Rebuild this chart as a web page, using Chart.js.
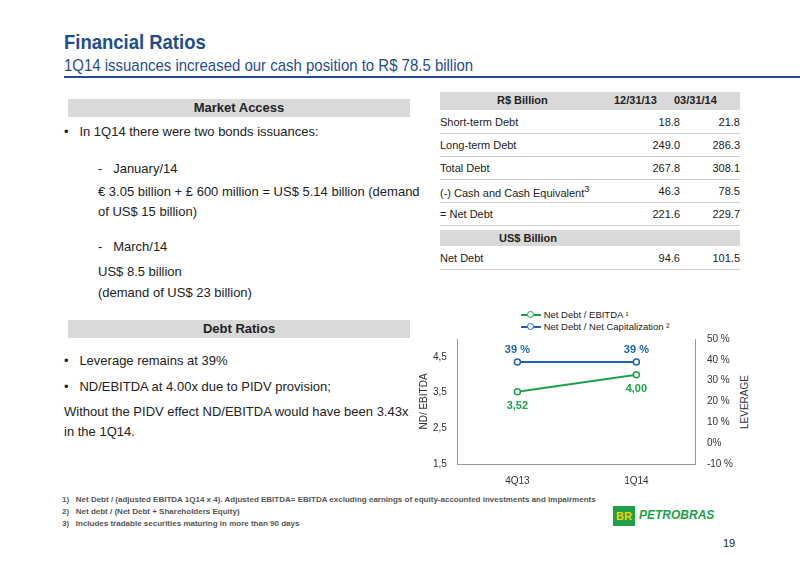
<!DOCTYPE html><html><head><meta charset="utf-8">
<script src="https://cdn.jsdelivr.net/npm/chart.js@4"></script>
<style>
body{margin:0;width:800px;height:565px;background:#fff;font-family:"Liberation Sans Narrow","Liberation Sans",Arial,sans-serif;position:relative;overflow:hidden;color:#222}
.a{position:absolute}
h1{position:absolute;left:64px;top:30px;margin:0;font-size:21px;color:#1f4e8c;font-weight:bold;transform:scaleX(.88);transform-origin:left}
.sub{left:64px;top:56px;font-size:17px;color:#1f4e8c;transform:scaleX(.88);transform-origin:left;white-space:nowrap}
.rule{left:64px;top:76px;width:736px;height:2px;background:#1f4e8c}
.box{background:#d9d9d9;font-weight:bold;text-align:center;font-size:13px;height:18px;line-height:18px}
.t{font-size:13px;white-space:nowrap}
table{border-collapse:collapse;font-size:11px}
td{height:22px;border-bottom:1px solid #ccc;padding:0}
.n{text-align:right}
</style></head><body>
<h1>Financial Ratios</h1>
<div class="a sub">1Q14 issuances increased our cash position to R$ 78.5 billion</div>
<div class="a rule"></div>
<div class="a box" style="left:68px;top:99px;width:342px">Market Access</div>
<div class="a t" style="left:64px;top:124px">•&nbsp;&nbsp; In 1Q14 there were two bonds issuances:</div>
<div class="a t" style="left:98px;top:161px">-&nbsp;&nbsp; January/14</div>
<div class="a t" style="left:98px;top:182px;line-height:20px">€ 3.05 billion + £ 600 million = US$ 5.14 billion (demand<br>of US$ 15 billion)</div>
<div class="a t" style="left:98px;top:239px">-&nbsp;&nbsp; March/14</div>
<div class="a t" style="left:98px;top:261px;line-height:21px">US$ 8.5 billion<br>(demand of US$ 23 billion)</div>
<div class="a box" style="left:68px;top:320px;width:342px">Debt Ratios</div>
<div class="a t" style="left:64px;top:353px">•&nbsp;&nbsp; Leverage remains at 39%</div>
<div class="a t" style="left:64px;top:379px">•&nbsp;&nbsp; ND/EBITDA at 4.00x due to PIDV provision;</div>
<div class="a t" style="left:64px;top:402px;line-height:20px">Without the PIDV effect ND/EBITDA would have been 3.43x<br>in the 1Q14.</div>
<div class="a" style="left:440px;top:92px;width:300px;height:18px;background:#d9d9d9"></div>
<div class="a t" style="left:497px;top:94px;font-size:11px;font-weight:bold">R$ Billion</div>
<div class="a t" style="left:614px;top:94px;font-size:11px;font-weight:bold">12/31/13</div>
<div class="a t" style="left:674px;top:94px;font-size:11px;font-weight:bold">03/31/14</div>
<table class="a" style="left:440px;top:111px;width:300px">
<tr><td>Short-term Debt</td><td class="n">18.8</td><td class="n">21.8</td></tr>
<tr><td>Long-term Debt</td><td class="n">249.0</td><td class="n">286.3</td></tr>
<tr><td>Total Debt</td><td class="n">267.8</td><td class="n">308.1</td></tr>
<tr><td>(-) Cash and Cash Equivalent<sup>3</sup></td><td class="n">46.3</td><td class="n">78.5</td></tr>
<tr><td style="width:170px">= Net Debt</td><td class="n" style="width:70px">221.6</td><td class="n">229.7</td></tr>
</table>
<div class="a" style="left:440px;top:230px;width:300px;height:16px;background:#d9d9d9"></div>
<div class="a t" style="left:499px;top:232px;font-size:11px;font-weight:bold">US$ Billion</div>
<table class="a" style="left:440px;top:247px;width:300px"><tr><td style="width:170px">Net Debt</td><td class="n" style="width:70px">94.6</td><td class="n">101.5</td></tr></table>
<div class="a" style="left:521px;top:309px;font-size:9.5px;line-height:12px">
<div><span style="display:inline-block;width:20px;height:2px;background:#1ea14a;vertical-align:middle;position:relative"><span style="position:absolute;left:6px;top:-3px;width:5px;height:5px;border:1.5px solid #1ea14a;border-radius:50%;background:#fff"></span></span> Net Debt / EBITDA ¹</div>
<div><span style="display:inline-block;width:20px;height:2px;background:#1f63b5;vertical-align:middle;position:relative"><span style="position:absolute;left:6px;top:-3px;width:5px;height:5px;border:1.5px solid #1f63b5;border-radius:50%;background:#fff"></span></span> Net Debt / Net Capitalization ²</div></div>
<div class="a" style="left:418px;top:330px;width:318px;height:160px"><canvas id="c"></canvas></div>
<div class="a" style="left:744px;top:402px;font-size:10px;color:#333;transform:translate(-50%,-50%) rotate(-90deg);white-space:nowrap">LEVERAGE</div>
<div class="a" style="left:62px;top:494px;font-size:8px;color:#555;line-height:12px;font-weight:bold">1)&nbsp;&nbsp; Net Debt / (adjusted EBITDA 1Q14 x 4). Adjusted EBITDA= EBITDA excluding earnings of equity-accounted investments and impairments<br>2)&nbsp;&nbsp; Net debt / (Net Debt + Shareholders Equity)<br>3)&nbsp;&nbsp; Includes tradable securities maturing in more than 90 days</div>
<div class="a" style="left:613px;top:506px;width:22px;height:20px;background:#1ea14a;color:#ffd200;font-weight:bold;font-size:11px;text-align:center;line-height:20px">BR</div>
<div class="a" style="left:639px;top:508px;font-size:12px;font-weight:bold;font-style:italic;color:#1ea14a">PETROBRAS</div>
<div class="a" style="left:723px;top:537px;font-size:11px">19</div>
<script>
const categories=["4Q13","1Q14"];
const ndEbitda=[3.52,4.00];
const leverage=[39,39];
const ndLabels=["3,52","4,00"];
const levLabels=["39 %","39 %"];
const labelPlugin={id:'lbl',afterDatasetsDraw(ch){const c=ch.ctx;c.save();c.font='bold 11px "Liberation Sans Narrow",sans-serif';c.textAlign='center';
ch.getDatasetMeta(0).data.forEach((p,i)=>{c.fillStyle='#1ea14a';c.fillText(ndLabels[i],p.x,p.y+17);});
ch.getDatasetMeta(1).data.forEach((p,i)=>{c.fillStyle='#1f63b5';c.fillText(levLabels[i],p.x,p.y-9);});c.restore();}};
new Chart(document.getElementById('c'),{type:'line',data:{labels:categories,datasets:[
{data:ndEbitda,borderColor:'#1ea14a',backgroundColor:'#fff',borderWidth:2,pointRadius:3,pointBorderWidth:1.5,yAxisID:'y'},
{data:leverage,borderColor:'#1f63b5',backgroundColor:'#fff',borderWidth:2,pointRadius:3,pointBorderWidth:1.5,yAxisID:'y2'}]},
options:{responsive:true,maintainAspectRatio:false,animation:false,layout:{padding:{top:2}},plugins:{legend:{display:false},tooltip:{enabled:false}},
scales:{x:{offset:true,grid:{display:false},border:{color:'#999'},ticks:{color:'#333',font:{size:10}}},
y:{min:1.5,max:5,afterBuildTicks(a){a.ticks=[1.5,2.5,3.5,4.5].map(v=>({value:v}));},grid:{display:false},border:{color:'#999'},ticks:{color:'#333',font:{size:10},callback:v=>v.toFixed(1).replace('.',',')},title:{display:true,text:'ND/ EBITDA',font:{size:10},color:'#333',padding:0}},
y2:{position:'right',min:-10,max:50,grid:{display:false},border:{color:'#999'},ticks:{stepSize:10,color:'#333',font:{size:10},callback:v=>v===0?'0%':v+' %'}}}},plugins:[labelPlugin]});
</script></body></html>
